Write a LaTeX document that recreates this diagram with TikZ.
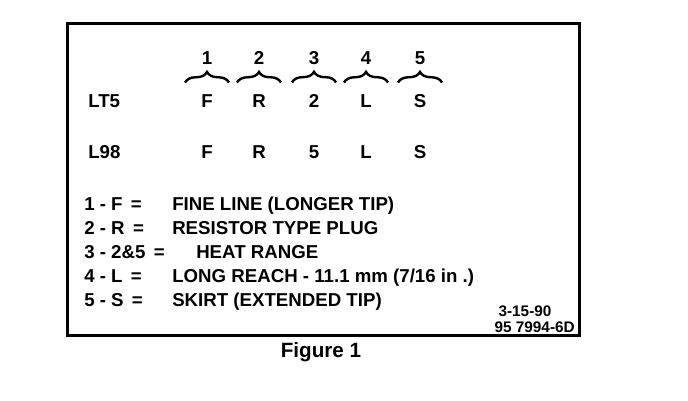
\documentclass[tikz,border=0pt]{standalone}
\usepackage{fontspec}
\setmainfont{Liberation Sans}
\usetikzlibrary{decorations.pathreplacing,calc,positioning}

\begin{document}
\begin{tikzpicture}[x=0.75pt,y=-0.75pt,
  txt/.style={font=\fontsize{14}{16}\selectfont\bfseries, inner sep=0pt, anchor=base},
  small/.style={font=\fontsize{11.5}{13}\selectfont\bfseries, inner sep=0pt, anchor=base},
  brc/.style={decorate, decoration={brace,amplitude=8pt}, line width=1.8pt}]
  \useasboundingbox (0,0) rectangle (688,400);
  \draw[line width=2.25pt] (67,23) rectangle (579,335);
  % code columns
  \node[txt, anchor=base west] (lt) at (88,107) {LT5};
  \node[txt, anchor=base west] (l98) at (88,158) {L98};
  \foreach \i/\x/\a/\b in {1/207/F/F, 2/259/R/R, 3/314/2/5, 4/366/L/L, 5/420/S/S} {
    \node[txt] (n\i) at (\x,64) {\i};
    \node[txt] (a\i) at (\x,107) {\a};
    \node[txt] (b\i) at (\x,158) {\b};
    \draw[brc] ($(a\i)+(-22,-18)$) -- ($(a\i)+(22,-18)$);
  }
  % legend
  \node[txt, anchor=base west] (k1) at (84,210) {1 - F \,=};
  \node[txt, anchor=base west] (k2) at (84,234) {2 - R \,=};
  \node[txt, anchor=base west] (k3) at (84,258) {3 - 2\&5 \,=};
  \node[txt, anchor=base west] (k4) at (84,282) {4 - L \,=};
  \node[txt, anchor=base west] (k5) at (84,306) {5 - S \,=};
  \node[txt, anchor=base west] (d1) at (172,210) {FINE LINE (LONGER TIP)};
  \node[txt, anchor=base west] (d2) at (172,234) {RESISTOR TYPE PLUG};
  \node[txt, anchor=base west] (d3) at (196,258) {HEAT RANGE};
  \node[txt, anchor=base west] (d4) at (172,282) {LONG REACH - 11.1 mm (7/16 in .)};
  \node[txt, anchor=base west] (d5) at (172,306) {SKIRT (EXTENDED TIP)};
  \node[small] (date) at (525,316) {3-15-90};
  \node[small, anchor=base east] (ref) at (575,332) {95 7994-6D};
  \node[txt, font=\fontsize{15.5}{18}\selectfont\bfseries] (cap) at (321,357) {Figure 1};
\end{tikzpicture}
\end{document}
